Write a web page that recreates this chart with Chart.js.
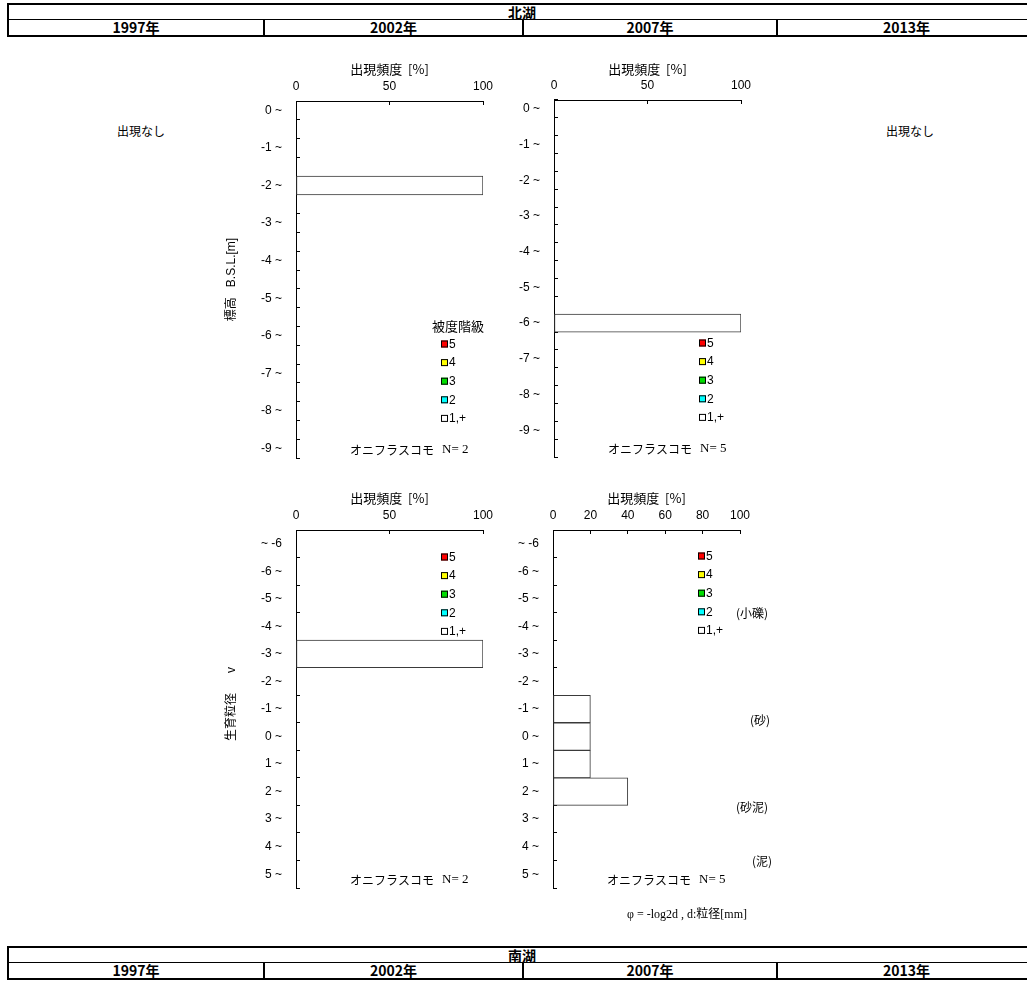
<!DOCTYPE html>
<html lang="ja">
<head>
<meta charset="utf-8">
<title>北湖 オニフラスコモ 出現頻度</title>
<script src="https://cdn.jsdelivr.net/npm/chart.js@4.4.1/dist/chart.umd.min.js"></script>
<style>
  html, body { margin: 0; padding: 0; background: #fff; }
  body { position: relative; width: 1027px; height: 981px; overflow: hidden; color: #000;
         font-family: "Liberation Sans", "Noto Sans CJK JP", sans-serif; }
  canvas { position: absolute; }
  .lake { position: absolute; left: 7px; width: 1030px; box-sizing: border-box; border: 2px solid #000;
          font-family: "Noto Sans CJK JP", sans-serif; font-size: 14px; font-weight: bold; }
  .lake .name { height: 14px; line-height: 14px; text-align: center; border-bottom: 1px solid #000; }
  .lake .years { display: flex; height: 15px; line-height: 15px; }
  .lake .years div { box-sizing: border-box; text-align: center; border-left: 2px solid #000; }
  .lake .years div:first-child { border-left: none; }
  .note { position: absolute; transform: translate(-50%, -50%); white-space: nowrap;
          font-family: "Noto Sans CJK JP", sans-serif; font-size: 12px; }
  .formula { position: absolute; left: 627px; top: 904px; white-space: nowrap;
             font-family: "Liberation Serif", "Noto Sans CJK JP", serif; font-size: 12px; }
</style>
</head>
<body>

<div class="lake" style="top:3px">
  <div class="name">北湖</div>
  <div class="years">
    <div style="width:254px">1997年</div>
    <div style="width:259px">2002年</div>
    <div style="width:254px">2007年</div>
    <div style="flex:1">2013年</div>
  </div>
</div>

<div class="note" style="left:141px; top:130px">出現なし</div>
<div class="note" style="left:910px; top:130px">出現なし</div>

<canvas id="depth2002" width="300" height="420" style="left:204px; top:55px"></canvas>
<canvas id="depth2007" width="256" height="420" style="left:506px; top:55px"></canvas>
<canvas id="grain2002" width="300" height="425" style="left:204px; top:480px"></canvas>
<canvas id="grain2007" width="256" height="425" style="left:506px; top:480px"></canvas>

<div class="note" style="left:752px; top:612px">(小礫)</div>
<div class="note" style="left:760px; top:719px">(砂)</div>
<div class="note" style="left:752px; top:806px">(砂泥)</div>
<div class="note" style="left:762px; top:860px">(泥)</div>

<div class="formula">φ = -log2d , d:粒径[mm]</div>

<div class="lake" style="top:946px">
  <div class="name">南湖</div>
  <div class="years">
    <div style="width:254px">1997年</div>
    <div style="width:259px">2002年</div>
    <div style="width:254px">2007年</div>
    <div style="flex:1">2013年</div>
  </div>
</div>

<script>
// Elevation bins (m, B.S.L.), 0.5 m each: "-2 ~" is -2.0 to -2.5
const depthBins2002 = [0, -0.5, -1, -1.5, -2, -2.5, -3, -3.5, -4, -4.5, -5, -5.5, -6, -6.5, -7, -7.5, -8, -8.5, -9];
const depthBins2007 = [0, -0.5, -1, -1.5, -2, -2.5, -3, -3.5, -4, -4.5, -5, -5.5, -6, -6.5, -7, -7.5, -8, -8.5, -9, -9.5];
// Occurrence frequency [%] per elevation bin
const depthFreq2002 = [0, 0, 0, 0, 100, 0, 0, 0, 0, 0, 0, 0, 0, 0, 0, 0, 0, 0, 0];
const depthFreq2007 = [0, 0, 0, 0, 0, 0, 0, 0, 0, 0, 0, 0, 100, 0, 0, 0, 0, 0, 0, 0];

// Grain size classes (phi)
const grainBins = ['~ -6', '-6 ~', '-5 ~', '-4 ~', '-3 ~', '-2 ~', '-1 ~', '0 ~', '1 ~', '2 ~', '3 ~', '4 ~', '5 ~'];
const grainFreq2002 = [0, 0, 0, 0, 100, 0, 0, 0, 0, 0, 0, 0, 0];
const grainFreq2007 = [0, 0, 0, 0, 0, 0, 20, 20, 20, 40, 0, 0, 0];

// Frequency axis ticks
const freqTicksCoarse = [0, 50, 100];
const freqTicksFine = [0, 20, 40, 60, 80, 100];

// Cover classes (被度階級)
const coverClasses = ['5', '4', '3', '2', '1,+'];
const coverColors = ['#ff0000', '#ffff00', '#00dd00', '#00ffff', '#ffffff'];

const speciesName = 'オニフラスコモ';
const sampleCount2002 = 2;
const sampleCount2007 = 5;

const SANS = '"Liberation Sans", "Noto Sans CJK JP", sans-serif';
const CJK = '"Noto Sans CJK JP", sans-serif';
const SERIF = '"Liberation Serif", "DejaVu Serif", serif';

// Cover-class key drawn inside the plot area
const coverLegend = {
  id: 'coverLegend',
  afterDraw(chart, args, opts) {
    const { ctx, chartArea } = chart;
    const x = chartArea.left + 145;
    let y = chartArea.top + opts.offsetTop;
    ctx.save();
    if (opts.title) {
      ctx.font = '13px ' + CJK;
      ctx.fillStyle = '#000';
      ctx.textAlign = 'center';
      ctx.textBaseline = 'middle';
      ctx.fillText(opts.title, chartArea.left + 162, chartArea.top + opts.offsetTop - 18);
    }
    coverClasses.forEach((label, i) => {
      ctx.fillStyle = coverColors[i];
      ctx.fillRect(x, y - 3.5, 7, 7);
      ctx.strokeStyle = '#000';
      ctx.lineWidth = 1;
      ctx.strokeRect(x + 0.5, y - 3.5 + 0.5, 6, 6);
      ctx.fillStyle = '#000';
      ctx.font = '12px ' + SANS;
      ctx.textAlign = 'left';
      ctx.textBaseline = 'middle';
      ctx.fillText(label, x + 8, y + 0.5);
      y += 18.6;
    });
    ctx.restore();
  }
};

// Species name and sample count at the foot of the plot
const speciesNote = {
  id: 'speciesNote',
  afterDraw(chart, args, opts) {
    const { ctx, chartArea } = chart;
    const x = chartArea.left + 54;
    const y = chartArea.bottom - 8;
    ctx.save();
    ctx.fillStyle = '#000';
    ctx.textBaseline = 'middle';
    ctx.textAlign = 'left';
    ctx.font = '12px ' + CJK;
    ctx.fillText(speciesName, x, y);
    const w = ctx.measureText(speciesName).width;
    ctx.font = '13px ' + SERIF;
    ctx.fillText('N= ' + opts.n, x + w + 8, y);
    ctx.restore();
  }
};

function makeChart(id, cfg) {
  return new Chart(document.getElementById(id), {
    type: 'bar',
    data: {
      labels: cfg.labels,
      datasets: [{
        label: '1,+',
        data: cfg.values,
        backgroundColor: '#ffffff',
        borderColor: '#3a3a3a',
        borderWidth: 1,
        borderSkipped: false,
        barPercentage: 1,
        categoryPercentage: 1
      }]
    },
    options: {
      indexAxis: 'y',
      responsive: false,
      animation: false,
      devicePixelRatio: 1,
      layout: { padding: cfg.padding },
      plugins: {
        legend: { display: false },
        tooltip: { enabled: false },
        coverLegend: { offsetTop: cfg.legendTop, title: cfg.legendTitle },
        speciesNote: { n: cfg.n }
      },
      scales: {
        x: {
          type: 'linear',
          position: 'top',
          min: 0,
          max: 100,
          afterBuildTicks: s => { s.ticks = cfg.freqTicks.map(v => ({ value: v })); },
          afterFit: s => { s.height = cfg.topAxis; s.paddingLeft = 0; s.paddingRight = 0; },
          grid: { display: true, drawOnChartArea: false, drawTicks: true, tickLength: -4, color: '#000', lineWidth: 1 },
          border: { display: true, color: '#000', width: 1 },
          ticks: { padding: 11, color: '#000', font: { family: SANS, size: 12 }, maxRotation: 0 },
          title: { display: true, text: '出現頻度  [%]', color: '#000', font: { family: CJK, size: 13 }, padding: { top: cfg.titlePad, bottom: 0 } }
        },
        y: {
          type: 'category',
          position: 'left',
          offset: true,
          afterFit: s => { s.width = cfg.leftAxis; s.paddingTop = 0; s.paddingBottom = 0; },
          grid: { display: true, offset: true, drawOnChartArea: false, drawTicks: true, tickLength: -4, color: '#000', lineWidth: 1 },
          border: { display: true, color: '#000', width: 1 },
          ticks: {
            autoSkip: false,
            padding: 18,
            color: '#000',
            font: { family: SANS, size: 12 },
            callback: cfg.tickLabel
          },
          title: {
            display: !!cfg.yTitle,
            text: cfg.yTitle || '',
            color: '#000',
            font: { family: SANS, size: 12 },
            padding: { top: 20, bottom: 0 }
          }
        }
      }
    },
    plugins: [coverLegend, speciesNote]
  });
}

function depthLabel(bins) {
  return (value, index) => Number.isInteger(bins[index]) ? bins[index] + ' ~' : '';
}

makeChart('depth2002', {
  labels: depthBins2002, values: depthFreq2002, freqTicks: freqTicksCoarse,
  tickLabel: depthLabel(depthBins2002),
  padding: { left: 0, top: 0, right: 21, bottom: 17 }, topAxis: 46, leftAxis: 92, titlePad: 6,
  yTitle: '標高   B.S.L.[m]', legendTop: 243, legendTitle: '被度階級', n: sampleCount2002
});

makeChart('depth2007', {
  labels: depthBins2007, values: depthFreq2007, freqTicks: freqTicksCoarse,
  tickLabel: depthLabel(depthBins2007),
  padding: { left: 0, top: 0, right: 21, bottom: 18 }, topAxis: 45, leftAxis: 48, titlePad: 6,
  yTitle: '', legendTop: 243, legendTitle: '', n: sampleCount2007
});

makeChart('grain2002', {
  labels: grainBins, values: grainFreq2002, freqTicks: freqTicksCoarse,
  tickLabel: (value, index) => grainBins[index],
  padding: { left: 0, top: 0, right: 21, bottom: 17 }, topAxis: 50, leftAxis: 92, titlePad: 10,
  yTitle: '   生育粒径      v', legendTop: 27, legendTitle: '', n: sampleCount2002
});

makeChart('grain2007', {
  labels: grainBins, values: grainFreq2007, freqTicks: freqTicksFine,
  tickLabel: (value, index) => grainBins[index],
  padding: { left: 0, top: 0, right: 22, bottom: 17 }, topAxis: 50, leftAxis: 47, titlePad: 10,
  yTitle: '', legendTop: 26, legendTitle: '', n: sampleCount2007
});
</script>
</body>
</html>
